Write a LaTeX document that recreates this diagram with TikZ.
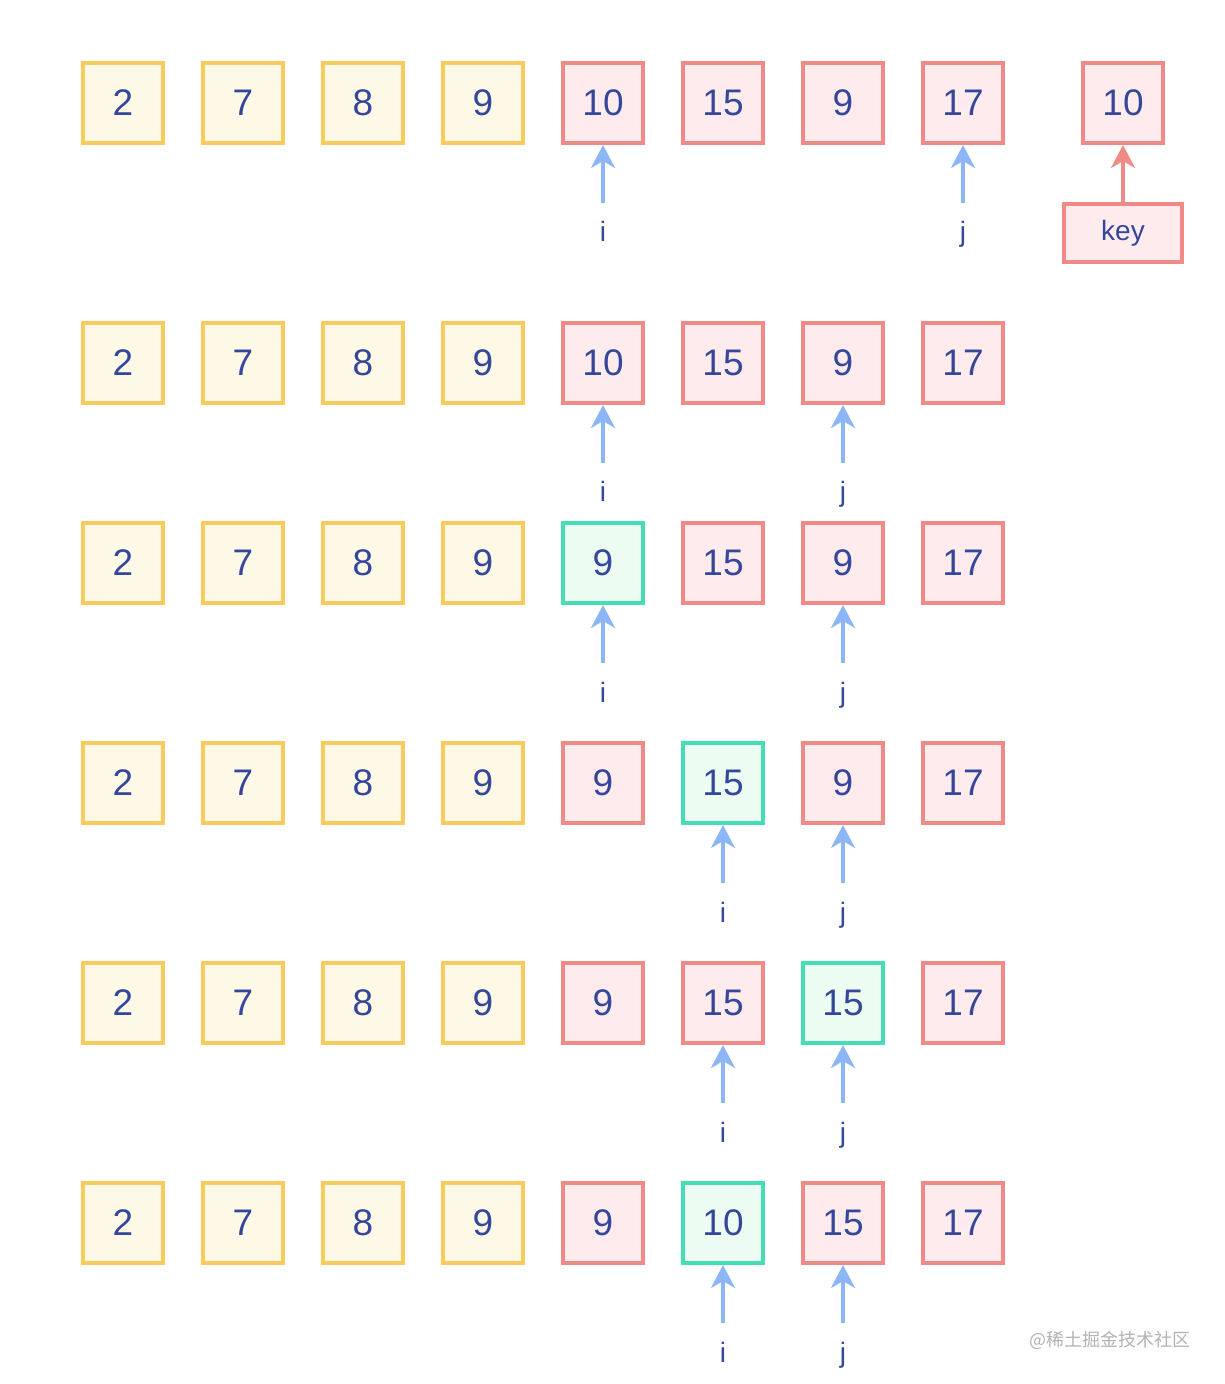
\documentclass[tikz,border=0pt]{standalone}
\usepackage{fontspec}
\setmainfont{Liberation Sans}
\newfontfamily\cjk{Noto Sans CJK SC}
\usetikzlibrary{arrows.meta}

\definecolor{txt}{HTML}{35479A}
\definecolor{ylw}{HTML}{F8CB5C}
\definecolor{ylwbg}{HTML}{FEF9E7}
\definecolor{rd}{HTML}{F08A87}
\definecolor{rdbg}{HTML}{FDEBEE}
\definecolor{grn}{HTML}{45DDB5}
\definecolor{grnbg}{HTML}{EDFCF3}
\definecolor{blu}{HTML}{8DB6F7}

\tikzset{
    cell/.style={draw, line width=2pt, minimum size=40pt, inner sep=0pt,
        text=txt, font=\fontsize{18.5}{18.5}\selectfont},
    low/.style={cell, draw=ylw, fill=ylwbg},
    high/.style={cell, draw=rd, fill=rdbg},
    cur/.style={cell, draw=grn, fill=grnbg},
    tip/.style={-{Stealth[length=11.5pt, width=12pt, inset=3.5pt]}, line width=2pt},
    ptr/.style={tip, draw=blu},
    idx/.style={anchor=base, inner sep=0pt, outer sep=9.5pt, text height=10pt,
        text=txt, font=\fontsize{14}{14}\selectfont},
}

\begin{document}
\begin{tikzpicture}[x=0.5pt, y=-0.5pt]
    \useasboundingbox (0,0) rectangle (1224,1384);
    % sorted part, the same in every row
    \foreach \y [count=\r] in {103,363,563,783,1003,1223}
        \foreach \v [count=\k] in {2,7,8,9}
            \node[low] (r\r-\k) at (3+120*\k,\y) {\v};
    % row 1
    \foreach \v/\s [count=\k from 5] in {10/high,15/high,9/high,17/high}
        \node[\s] (r1-\k) at (3+120*\k,103) {\v};
    \node[high] (k) at (1123,103) {10};
    \node[high, minimum width=59pt, minimum height=29pt,
        font=\fontsize{14}{14}\selectfont] (key) at (1123,233) {key};
    \draw[tip, draw=rd] (key) -- (k);
    % row 2
    \foreach \v/\s [count=\k from 5] in {10/high,15/high,9/high,17/high}
        \node[\s] (r2-\k) at (3+120*\k,363) {\v};
    % row 3
    \foreach \v/\s [count=\k from 5] in {9/cur,15/high,9/high,17/high}
        \node[\s] (r3-\k) at (3+120*\k,563) {\v};
    % row 4
    \foreach \v/\s [count=\k from 5] in {9/high,15/cur,9/high,17/high}
        \node[\s] (r4-\k) at (3+120*\k,783) {\v};
    % row 5
    \foreach \v/\s [count=\k from 5] in {9/high,15/high,15/cur,17/high}
        \node[\s] (r5-\k) at (3+120*\k,1003) {\v};
    % row 6
    \foreach \v/\s [count=\k from 5] in {9/high,10/cur,15/high,17/high}
        \node[\s] (r6-\k) at (3+120*\k,1223) {\v};
    % i and j
    \foreach \r/\y/\a/\b in {1/242/5/8, 2/502/5/7, 3/702/5/7, 4/922/6/7, 5/1142/6/7, 6/1362/6/7} {
        \node[idx] (i\r) at (3+120*\a,\y) {i};
        \node[idx] (j\r) at (3+120*\b,\y) {j};
        \draw[ptr] (i\r) -- (r\r-\a);
        \draw[ptr] (j\r) -- (r\r-\b);
    }
    \node[text=black!30, font=\cjk\fontsize{9}{9}\selectfont] (mark) at (1110,1340) {@稀土掘金技术社区};
\end{tikzpicture}
\end{document}
